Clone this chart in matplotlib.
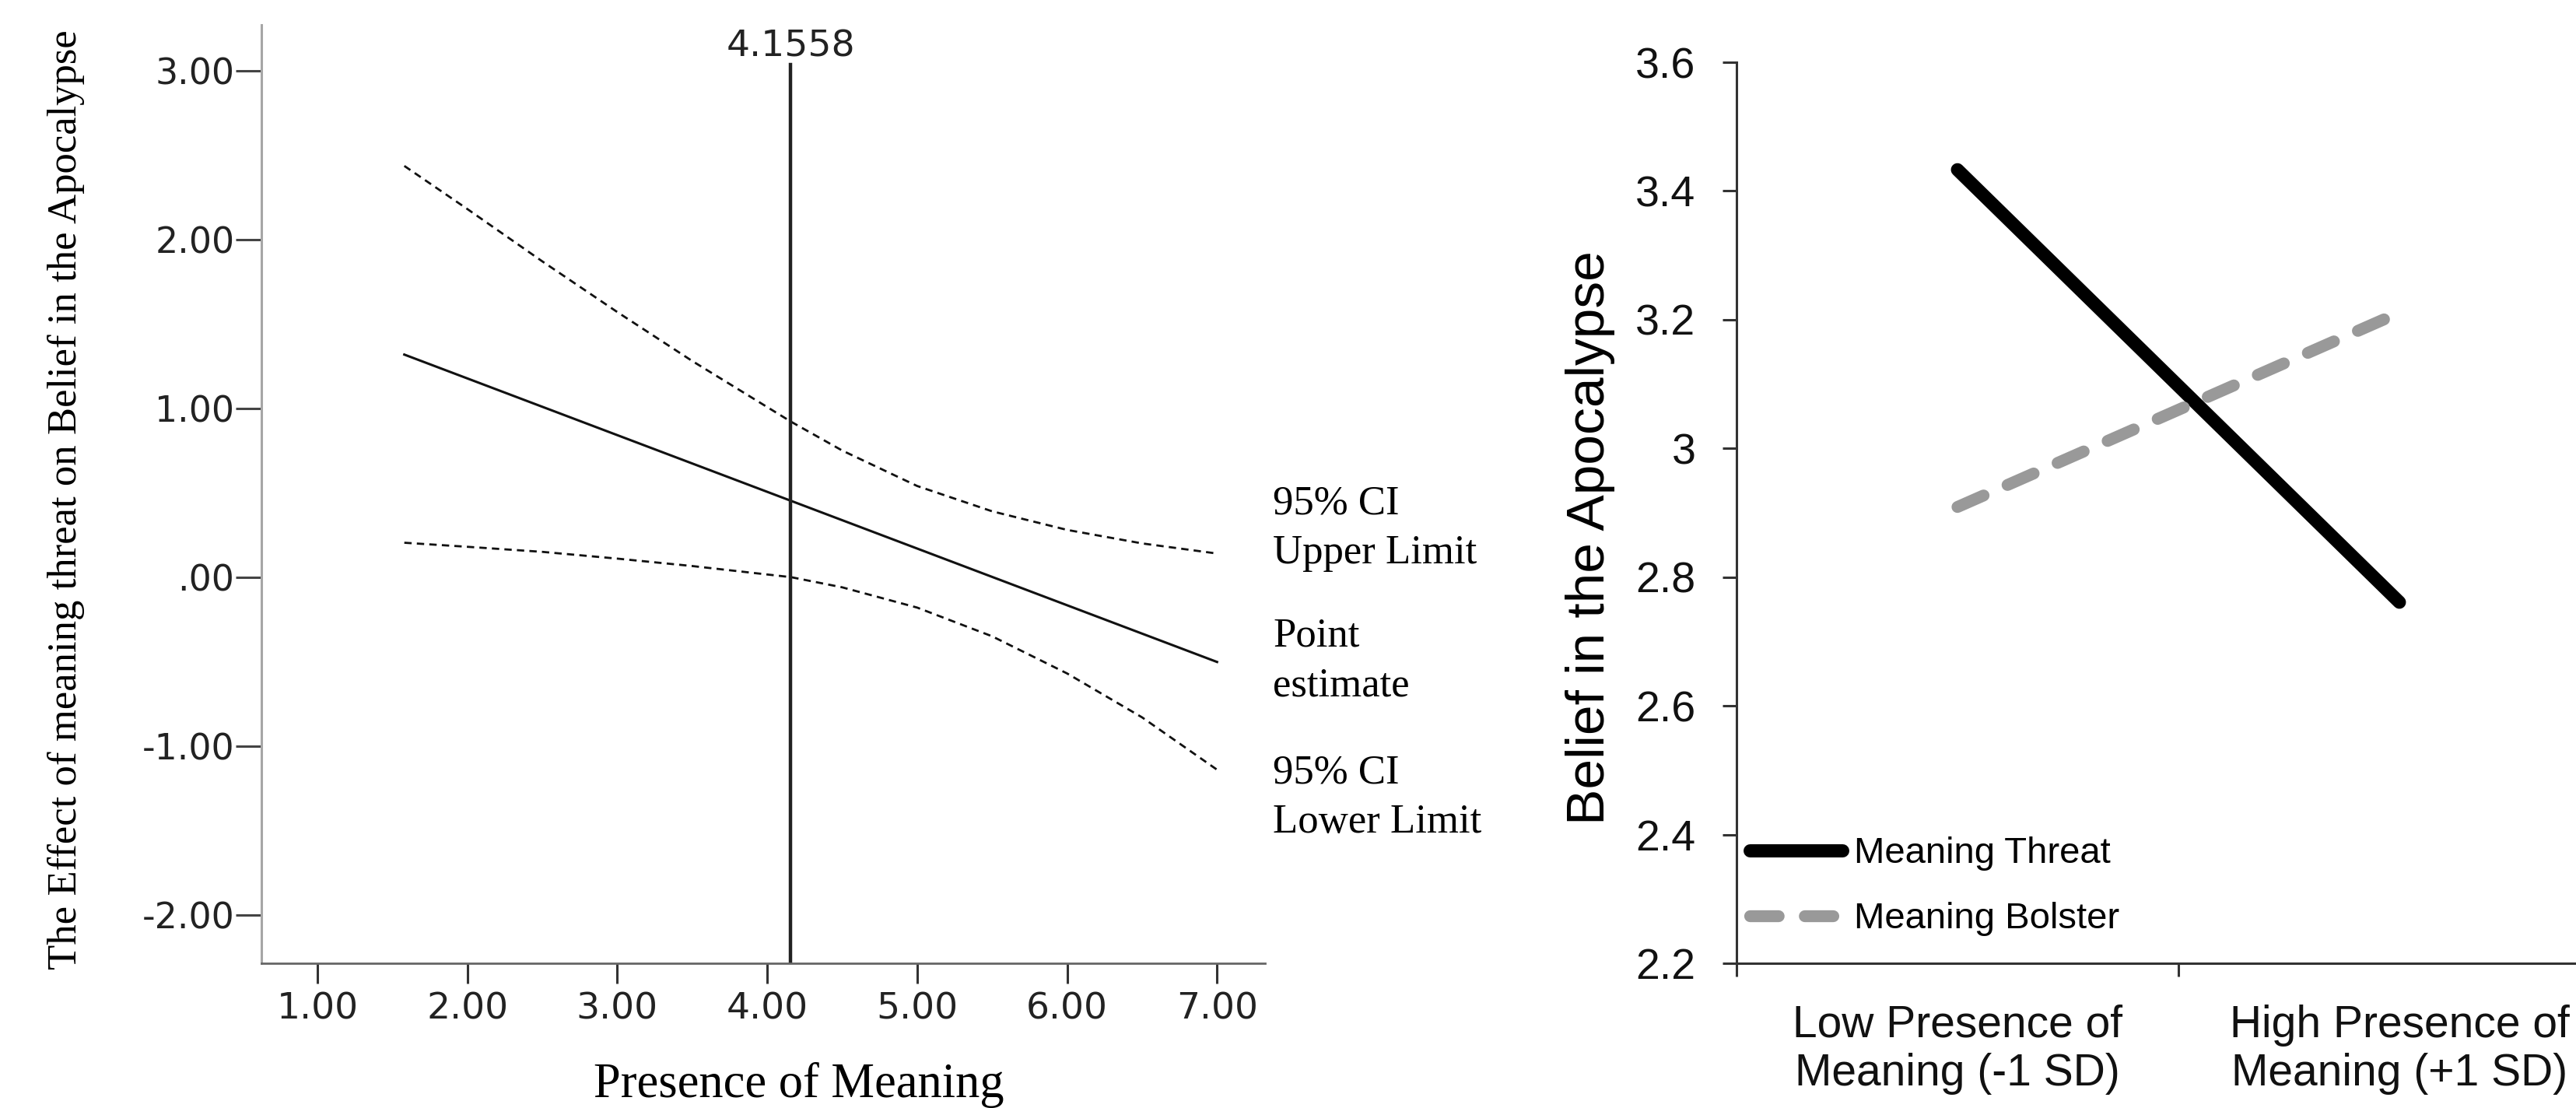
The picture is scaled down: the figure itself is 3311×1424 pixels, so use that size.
import matplotlib
matplotlib.use('Agg')
import matplotlib.pyplot as plt
from matplotlib.ticker import FixedLocator, FixedFormatter, NullFormatter

# ---------------- Left panel data (Johnson-Neyman plot) ----------------
pm_x = [1.58, 2.0, 2.5, 3.0, 3.5, 4.16, 4.5, 5.0, 5.5, 6.0, 6.5, 7.0]
ci_upper = [2.435, 2.18, 1.87, 1.57, 1.28, 0.92, 0.75, 0.54, 0.39, 0.28, 0.20, 0.14]
ci_lower = [0.204, 0.18, 0.15, 0.11, 0.066, 0.0, -0.06, -0.18, -0.35, -0.57, -0.83, -1.14]
est_x = [1.58, 7.0]
est_y = [1.318, -0.502]
jn_value = 4.1558
left_xticks = [1, 2, 3, 4, 5, 6, 7]
left_xticklabels = ['1.00', '2.00', '3.00', '4.00', '5.00', '6.00', '7.00']
left_yticks = [3, 2, 1, 0, -1, -2]
left_yticklabels = ['3.00', '2.00', '1.00', '.00', '-1.00', '-2.00']
line_labels = ['95% CI\nUpper Limit', 'Point\nestimate', '95% CI\nLower Limit']

# ---------------- Right panel data ----------------
groups = ['Low Presence of\nMeaning (-1 SD)', 'High Presence of\nMeaning (+1 SD)']
threat = [3.433, 2.761]
bolster = [2.909, 3.211]
right_yticks = [2.2, 2.4, 2.6, 2.8, 3.0, 3.2, 3.4, 3.6]
right_yticklabels = ['2.2', '2.4', '2.6', '2.8', '3', '3.2', '3.4', '3.6']

SERIF = ['Liberation Serif', 'DejaVu Serif']
SANS = ['Liberation Sans', 'DejaVu Sans']
SPSS = ['DejaVu Sans']

fig = plt.figure(figsize=(33.12, 14.24), dpi=100)
fig.patch.set_facecolor('white')

# ================= Left panel =================
ax1 = fig.add_axes([336 / 3312, 1 - 1238 / 1424, 1290 / 3312, 1206 / 1424])
ax1.set_xlim(0.627, 7.32)
ax1.set_ylim(-2.286, 3.27)

ax1.plot(pm_x, ci_upper, color='#111111', lw=2.0, ls=(0, (3.4, 2.4)))
ax1.plot(pm_x, ci_lower, color='#111111', lw=2.0, ls=(0, (3.4, 2.4)))
ax1.plot(est_x, est_y, color='#111111', lw=2.2)
ax1.plot([jn_value, jn_value], [-2.286, 3.037], color='#222222', lw=3.2)
ax1.text(jn_value, 3.083, f'{jn_value:.4f}', ha='center', va='baseline',
         fontsize=34, family=SPSS, color='#222222')

label_y = [0.29, -0.495, -1.305]
for txt, yy in zip(line_labels, label_y):
    ax1.text(7.373, yy, txt, ha='left', va='center', fontsize=38,
             family=SERIF, color='black', linespacing=1.42, clip_on=False)

for s in ['top', 'right']:
    ax1.spines[s].set_visible(False)
ax1.spines['left'].set_color('#a6a6a6')
ax1.spines['left'].set_linewidth(2.2)
ax1.spines['bottom'].set_color('#666666')
ax1.spines['bottom'].set_linewidth(2.0)

ax1.xaxis.set_major_locator(FixedLocator(left_xticks))
ax1.xaxis.set_major_formatter(FixedFormatter(left_xticklabels))
ax1.yaxis.set_major_locator(FixedLocator(left_yticks))
ax1.yaxis.set_major_formatter(FixedFormatter(left_yticklabels))
ax1.tick_params(axis='y', direction='out', length=24, width=2.2, color='#444444',
                pad=1, labelsize=33, labelcolor='#222222')
ax1.tick_params(axis='x', direction='out', length=19, width=2.2, color='#333333',
                pad=7, labelsize=34, labelcolor='#222222')
for lab in ax1.get_xticklabels() + ax1.get_yticklabels():
    lab.set_family(SPSS)

ax1.set_xlabel('Presence of Meaning', fontsize=45, family=SERIF)
ax1.xaxis.set_label_coords(0.5357, -0.130)
ax1.xaxis.label.set_verticalalignment('center')
ax1.set_ylabel('The Effect of meaning threat on Belief in the Apocalypse',
               fontsize=38, family=SERIF)
ax1.yaxis.set_label_coords(-0.1946, 0.494)
ax1.yaxis.label.set_verticalalignment('center')

# ================= Right panel =================
ax2 = fig.add_axes([2232 / 3312, 1 - 1238 / 1424, 1136 / 3312, 1158 / 1424])
ax2.set_xlim(0, 2)
ax2.set_ylim(2.2, 3.6)
xpos = [0.5, 1.5]

ax2.plot(xpos, threat, color='black', lw=12.2, solid_capstyle='round',
         label='Meaning Threat')
ax2.plot(xpos, bolster, color='#999999', lw=11, dash_capstyle='round',
         dashes=(2.4, 2.2), label='Meaning Bolster')

for s in ['top', 'right']:
    ax2.spines[s].set_visible(False)
for s in ['left', 'bottom']:
    ax2.spines[s].set_color('#333333')
    ax2.spines[s].set_linewidth(2.2)

ax2.yaxis.set_major_locator(FixedLocator(right_yticks))
ax2.yaxis.set_major_formatter(FixedFormatter(right_yticklabels))
ax2.tick_params(axis='y', direction='out', length=13, width=2.2, color='#333333',
                pad=25, labelsize=40, labelcolor='#111111')
ax2.xaxis.set_major_locator(FixedLocator([0, 1, 2]))
ax2.xaxis.set_major_formatter(NullFormatter())
ax2.xaxis.set_minor_locator(FixedLocator(xpos))
ax2.xaxis.set_minor_formatter(FixedFormatter(groups))
ax2.tick_params(axis='x', which='major', direction='out', length=12, width=2.2,
                color='#333333')
ax2.tick_params(axis='x', which='minor', length=0, pad=38, labelsize=41,
                labelcolor='#111111')
for lab in ax2.get_yticklabels() + ax2.get_xticklabels(minor=True):
    lab.set_family(SANS)

ax2.set_ylabel('Belief in the Apocalypse', fontsize=50, family=SANS)
ax2.yaxis.set_label_coords(-0.1655, 0.472)
ax2.yaxis.label.set_verticalalignment('center')

leg = ax2.legend(loc='lower left', bbox_to_anchor=(0.0154, 0.03), frameon=False,
                 prop={'family': SANS, 'size': 34}, handlelength=2.5,
                 handletextpad=0.33, labelspacing=0.85, borderpad=0,
                 borderaxespad=0)

fig.savefig('out.png', dpi=100, facecolor='white')
